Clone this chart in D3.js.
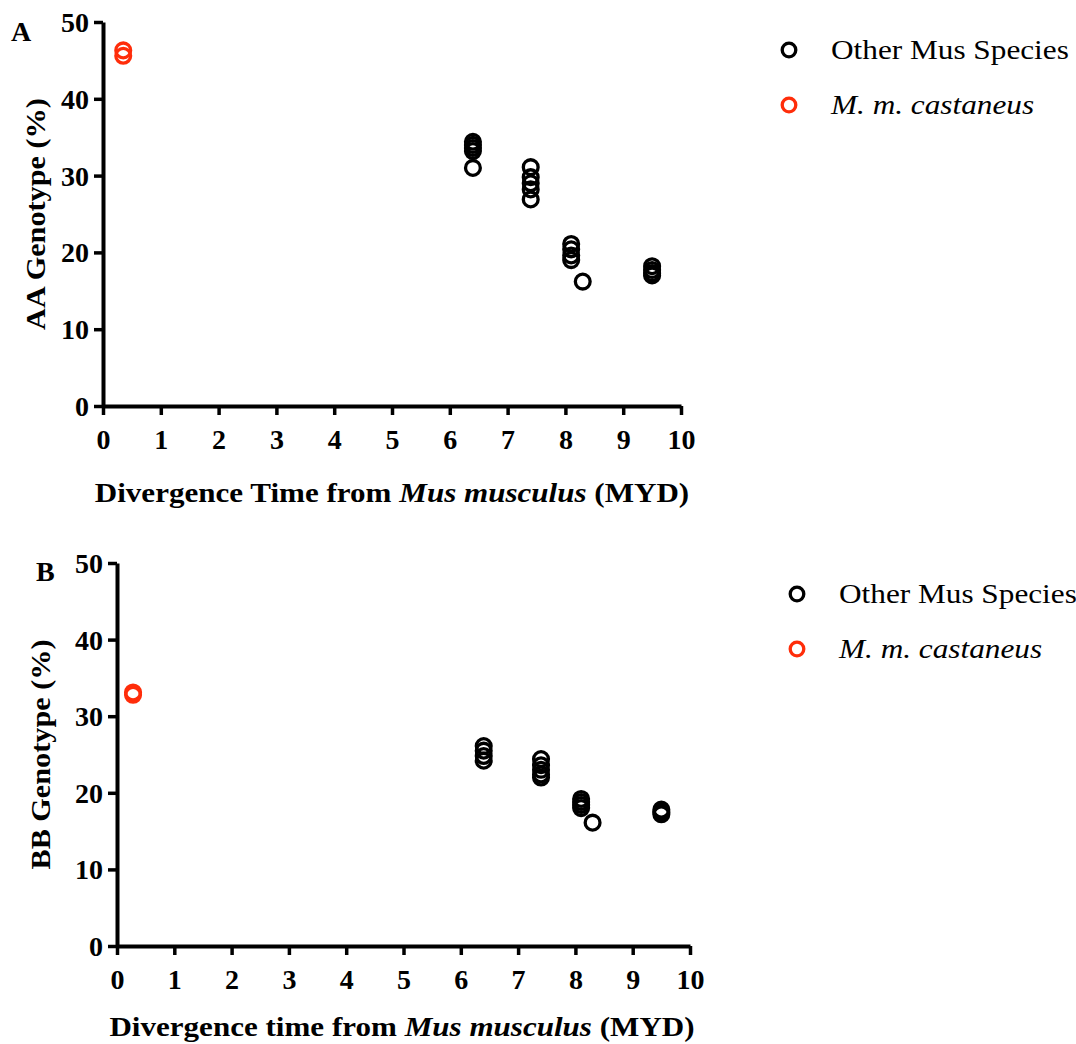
<!DOCTYPE html>
<html>
<head>
<meta charset="utf-8">
<script src="https://cdn.jsdelivr.net/npm/d3@7"></script>
<style>
  body { margin: 0; background: #fff; }
  svg { font-family: "Liberation Serif", "Times New Roman", serif; }
</style>
</head>
<body>
<svg id="chart" width="1076" height="1044"></svg>
<script>
// panel A values (AA genotype %)
const timesA = [6.4, 7.4, 8.1, 8.3, 9.5];
const otherA = [
  [34.4, 34.0, 33.6, 33.2, 31.0],
  [31.1, 29.8, 29.0, 28.2, 26.9],
  [21.1, 20.4, 19.6, 19.0],
  [16.2],
  [18.2, 17.7, 17.3, 17.0]
];
const castTimeA = 0.35;
const castA = [46.3, 45.6];

// panel B values (BB genotype %)
const timesB = [6.4, 7.4, 8.1, 8.3, 9.5];
const otherB = [
  [26.1, 25.5, 24.8, 24.2],
  [24.4, 23.6, 23.0, 22.4, 22.0],
  [19.2, 18.8, 18.4, 18.0],
  [16.1],
  [17.8, 17.5, 17.2]
];
const castTimeB = 0.28;
const castB = [33.1, 32.8];

const xTicks = [0, 1, 2, 3, 4, 5, 6, 7, 8, 9, 10];
const yTicks = [0, 10, 20, 30, 40, 50];
const legendLabels = ["Other Mus Species", "M. m. castaneus"];

const BLACK = "#000", RED = "#ff2d0a";
const svg = d3.select("#chart");

function panel(opt) {
  const x = d3.scaleLinear().domain([0, 10]).range([opt.x0, opt.x1]);
  const y = d3.scaleLinear().domain([0, 50]).range([opt.y0, opt.y1]);
  const g = svg.append("g");

  const xAxis = g.append("g")
    .attr("transform", `translate(0,${opt.y0})`)
    .call(d3.axisBottom(x).tickValues(xTicks).tickSize(9).tickSizeOuter(0).tickPadding(14));
  const yAxis = g.append("g")
    .attr("transform", `translate(${opt.x0},0)`)
    .call(d3.axisLeft(y).tickValues(yTicks).tickSize(9).tickSizeOuter(0).tickPadding(5));

  [xAxis, yAxis].forEach(a => {
    a.select(".domain").attr("stroke", BLACK).attr("stroke-width", 4);
    a.selectAll(".tick line").attr("stroke", BLACK).attr("stroke-width", 3.5);
    a.selectAll("text")
      .attr("fill", BLACK)
      .style("font-family", "'Liberation Serif', serif")
      .style("font-weight", "bold")
      .style("font-size", "28px");
  });
  yAxis.selectAll("text").attr("dy", "0.34em");

  // y title (text in the reference is a bit stretched)
  g.append("text")
    .attr("transform", `translate(${opt.ytX},${(opt.y0 + opt.y1) / 2}) rotate(-90) scale(1.12,1)`)
    .attr("text-anchor", "middle")
    .style("font-weight", "bold").style("font-size", "27px")
    .text(opt.yTitle);

  // x title with italic species name
  const xt = g.append("text")
    .attr("transform", `translate(${opt.xtX},${opt.xtY}) scale(1.13,1)`)
    .attr("text-anchor", "middle")
    .style("font-weight", "bold").style("font-size", "27.5px");
  xt.append("tspan").text(opt.xTitle[0]);
  xt.append("tspan").style("font-style", "italic").text(opt.xTitle[1]);
  xt.append("tspan").text(opt.xTitle[2]);

  // panel letter
  g.append("text").attr("x", opt.letX).attr("y", opt.letY)
    .style("font-weight", "bold").style("font-size", "28px").text(opt.letter);

  // points
  const pts = [];
  opt.times.forEach((t, i) => opt.other[i].forEach(v => pts.push({t: t, v: v, c: BLACK})));
  opt.cast.forEach(v => pts.push({t: opt.castTime, v: v, c: RED}));
  g.selectAll("circle.pt").data(pts).enter().append("circle")
    .attr("class", "pt")
    .attr("cx", d => x(d.t)).attr("cy", d => y(d.v))
    .attr("r", 7.4)
    .attr("fill", "none")
    .attr("stroke", d => d.c)
    .attr("stroke-width", 3.3);

  // legend
  const lg = g.append("g").attr("transform", `translate(${opt.legX},${opt.legY})`);
  legendLabels.forEach((lab, i) => {
    lg.append("circle").attr("cx", 0).attr("cy", i * 55).attr("r", 6.8)
      .attr("fill", "none").attr("stroke", i === 0 ? BLACK : RED).attr("stroke-width", 3.3);
    lg.append("text")
      .attr("transform", `translate(42,${i * 55}) scale(1.18,1)`)
      .attr("dy", "0.35em")
      .style("font-size", "26.5px")
      .style("font-style", i === 1 ? "italic" : "normal")
      .text(lab);
  });
}

panel({
  x0: 103, x1: 681, y0: 406, y1: 22,
  times: timesA, other: otherA, castTime: castTimeA, cast: castA,
  yTitle: "AA Genotype (%)", ytX: 45,
  xTitle: ["Divergence Time from ", "Mus musculus", " (MYD)"], xtX: 392, xtY: 502,
  letter: "A", letX: 11, letY: 41,
  legX: 789, legY: 50
});

panel({
  x0: 117, x1: 690, y0: 946, y1: 563,
  times: timesB, other: otherB, castTime: castTimeB, cast: castB,
  yTitle: "BB Genotype (%)", ytX: 50,
  xTitle: ["Divergence time from ", "Mus musculus", " (MYD)"], xtX: 402, xtY: 1036,
  letter: "B", letX: 36, letY: 581,
  legX: 797, legY: 594
});
</script>
</body>
</html>
